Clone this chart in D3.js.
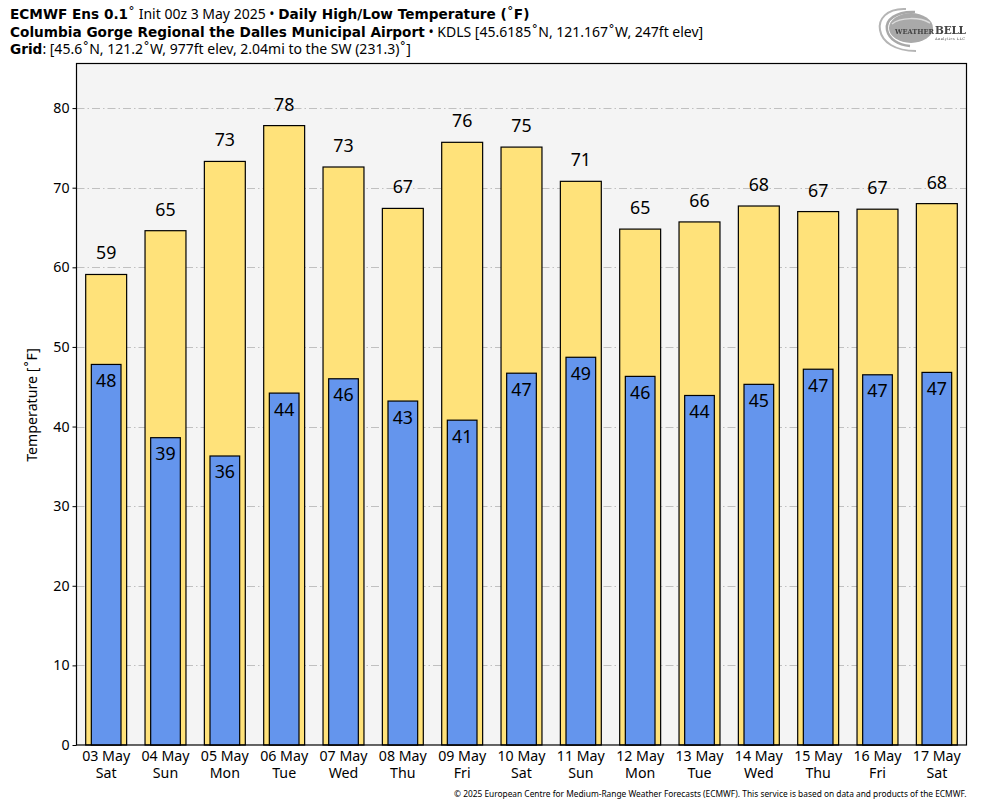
<!DOCTYPE html>
<html>
<head>
<meta charset="utf-8">
<script src="https://cdn.jsdelivr.net/npm/d3@7"></script>
<style>
  html, body { margin: 0; padding: 0; background: #fff; }
  svg { display: block; }
  text { font-family: "Noto Sans", sans-serif; fill: #000; }
  .title { font-size: 14px; }
  .title .b { font-family: "DejaVu Sans", sans-serif; font-weight: 700; font-size: 13.65px; }
  .deg { font-family: "DejaVu Sans", sans-serif; font-weight: 400; }
  .logo text { font-family: "DejaVu Serif", serif; fill: #444; }
</style>
</head>
<body>
<svg id="chart" width="984" height="808"></svg>
<script>
const dates = ["03 May", "04 May", "05 May", "06 May", "07 May", "08 May", "09 May", "10 May", "11 May", "12 May", "13 May", "14 May", "15 May", "16 May", "17 May"];
const days  = ["Sat", "Sun", "Mon", "Tue", "Wed", "Thu", "Fri", "Sat", "Sun", "Mon", "Tue", "Wed", "Thu", "Fri", "Sat"];
const highs = [59.1, 64.6, 73.3, 77.8, 72.6, 67.4, 75.7, 75.1, 70.8, 64.8, 65.7, 67.7, 67.0, 67.3, 68.0];
const lows  = [47.8, 38.6, 36.3, 44.2, 46.0, 43.2, 40.8, 46.7, 48.7, 46.3, 43.9, 45.3, 47.2, 46.5, 46.8];
const yTicks = [0, 10, 20, 30, 40, 50, 60, 70, 80];

const svg = d3.select("#chart");
const plotLeft = 76.5, plotRight = 966.5, plotTop = 63.5, plotBottom = 745;

const x = d3.scaleBand().domain(d3.range(dates.length)).range([plotLeft, plotRight]);
const y = d3.scaleLinear().domain([0, 85.6]).range([plotBottom, plotTop]);

// the ring glyph is wider in the original, so it gets its own tspan
function addRuns(sel, str, cls) {
    str.split(/(˚)/).filter(s => s).forEach(s => {
        sel.append("tspan").attr("class", s === "˚" ? "deg" : cls).text(s);
    });
}

// plot background
svg.append("rect")
    .attr("x", plotLeft).attr("y", plotTop)
    .attr("width", plotRight - plotLeft).attr("height", plotBottom - plotTop)
    .attr("fill", "#f4f4f4");

// gridlines
svg.append("g").selectAll("line")
    .data(yTicks.slice(1))
    .join("line")
    .attr("x1", plotLeft).attr("x2", plotRight)
    .attr("y1", d => Math.round(y(d)) + 0.5).attr("y2", d => Math.round(y(d)) + 0.5)
    .attr("stroke", "#c0c0c0")
    .attr("stroke-width", 1)
    .attr("stroke-dasharray", "8 3 1.5 3");

// high bars
const highW = x.bandwidth() * 0.69;
svg.append("g").selectAll("rect")
    .data(highs)
    .join("rect")
    .attr("x", (d, i) => x(i) + (x.bandwidth() - highW) / 2)
    .attr("y", d => y(d))
    .attr("width", highW)
    .attr("height", d => plotBottom - y(d))
    .attr("fill", "#ffe27a")
    .attr("stroke", "#000")
    .attr("stroke-width", 1.2);

// low bars
const lowW = x.bandwidth() * 0.5;
svg.append("g").selectAll("rect")
    .data(lows)
    .join("rect")
    .attr("x", (d, i) => x(i) + (x.bandwidth() - lowW) / 2)
    .attr("y", d => y(d))
    .attr("width", lowW)
    .attr("height", d => plotBottom - y(d))
    .attr("fill", "#6495ed")
    .attr("stroke", "#000")
    .attr("stroke-width", 1.2);

// value labels
svg.append("g").selectAll("text")
    .data(highs)
    .join("text")
    .attr("x", (d, i) => x(i) + x.bandwidth() / 2)
    .attr("y", d => y(d) - 15)
    .attr("text-anchor", "middle")
    .attr("font-size", 17.8)
    .text(d => Math.round(d));

svg.append("g").selectAll("text")
    .data(lows)
    .join("text")
    .attr("x", (d, i) => x(i) + x.bandwidth() / 2)
    .attr("y", d => y(d) + 22.5)
    .attr("text-anchor", "middle")
    .attr("font-size", 17.8)
    .text(d => Math.round(d));

// frame
svg.append("rect")
    .attr("x", plotLeft).attr("y", plotTop)
    .attr("width", plotRight - plotLeft).attr("height", plotBottom - plotTop)
    .attr("fill", "none")
    .attr("stroke", "#000")
    .attr("stroke-width", 1.2);

// y axis
const yAxis = svg.append("g")
    .attr("transform", `translate(${plotLeft},0)`)
    .call(d3.axisLeft(y).tickValues(yTicks).tickSize(4).tickPadding(3));
yAxis.select(".domain").remove();
yAxis.selectAll("text").attr("font-size", 14.2).style("font-family", '"Noto Sans", sans-serif');
yAxis.selectAll("line").attr("stroke", "#000");

const yLabel = svg.append("text")
    .attr("transform", "translate(37,405) rotate(-90)")
    .attr("text-anchor", "middle")
    .attr("font-size", 14.2);
addRuns(yLabel, "Temperature [˚F]");

// x labels, date over weekday
const xLabels = svg.append("g").selectAll("text")
    .data(dates)
    .join("text")
    .attr("text-anchor", "middle")
    .attr("font-size", 14.2);
xLabels.append("tspan")
    .attr("x", (d, i) => x(i) + x.bandwidth() / 2)
    .attr("y", 761)
    .text(d => d);
xLabels.append("tspan")
    .attr("x", (d, i) => x(i) + x.bandwidth() / 2)
    .attr("y", 778)
    .text((d, i) => days[i]);

// header
const t1 = svg.append("text").attr("class", "title").attr("x", 10).attr("y", 19);
addRuns(t1, "ECMWF Ens 0.1", "b");
addRuns(t1, "˚ Init 00z 3 May 2025 • ");
addRuns(t1, "Daily High/Low Temperature (˚F)", "b");

const t2 = svg.append("text").attr("class", "title").attr("x", 10).attr("y", 37);
addRuns(t2, "Columbia Gorge Regional the Dalles Municipal Airport", "b");
addRuns(t2, " • KDLS [45.6185˚N, 121.167˚W, 247ft elev]");

const t3 = svg.append("text").attr("class", "title").attr("x", 10).attr("y", 54);
addRuns(t3, "Grid", "b");
addRuns(t3, ": [45.6˚N, 121.2˚W, 977ft elev, 2.04mi to the SW (231.3)˚]");

svg.append("text")
    .attr("x", 966.5).attr("y", 797)
    .attr("text-anchor", "end")
    .attr("font-size", 8.35)
    .text("© 2025 European Centre for Medium-Range Weather Forecasts (ECMWF). This service is based on data and products of the ECMWF.");

// logo, soft like the pasted bitmap in the original
const defs = svg.append("defs");
defs.append("filter").attr("id", "soft").append("feGaussianBlur").attr("stdDeviation", 0.5);
const logo = svg.append("g").attr("class", "logo").attr("filter", "url(#soft)");
logo.append("path").attr("d", "M906 9C886 8 878 20 880 30C882 42 895 51 916 51")
    .attr("fill", "none").attr("stroke", "#b5b5b5").attr("stroke-width", 2);
logo.append("path").attr("d", "M915 12C896 11 885 20 887 30C889 39 898 45 910 46")
    .attr("fill", "none").attr("stroke", "#a8a8a8").attr("stroke-width", 2.5);
logo.append("ellipse").attr("cx", 911).attr("cy", 28).attr("rx", 22).attr("ry", 15).attr("fill", "#a9a9a9");
logo.append("path").attr("d", "M892 24C900 17 920 17 930 23")
    .attr("fill", "none").attr("stroke", "#dcdcdc").attr("stroke-width", 1.5);
logo.append("text").attr("x", 895).attr("y", 33.5).attr("font-size", 8).attr("font-weight", 700)
    .attr("textLength", 39).attr("lengthAdjust", "spacingAndGlyphs").text("WEATHER");
logo.append("text").attr("x", 935).attr("y", 34).attr("font-size", 10.5).attr("font-weight", 700)
    .attr("textLength", 31).attr("lengthAdjust", "spacing").text("BELL");
logo.append("text").attr("x", 935).attr("y", 39.5).attr("font-size", 3.6)
    .attr("textLength", 30).attr("lengthAdjust", "spacing").text("Analytics LLC");
</script>
</body>
</html>
